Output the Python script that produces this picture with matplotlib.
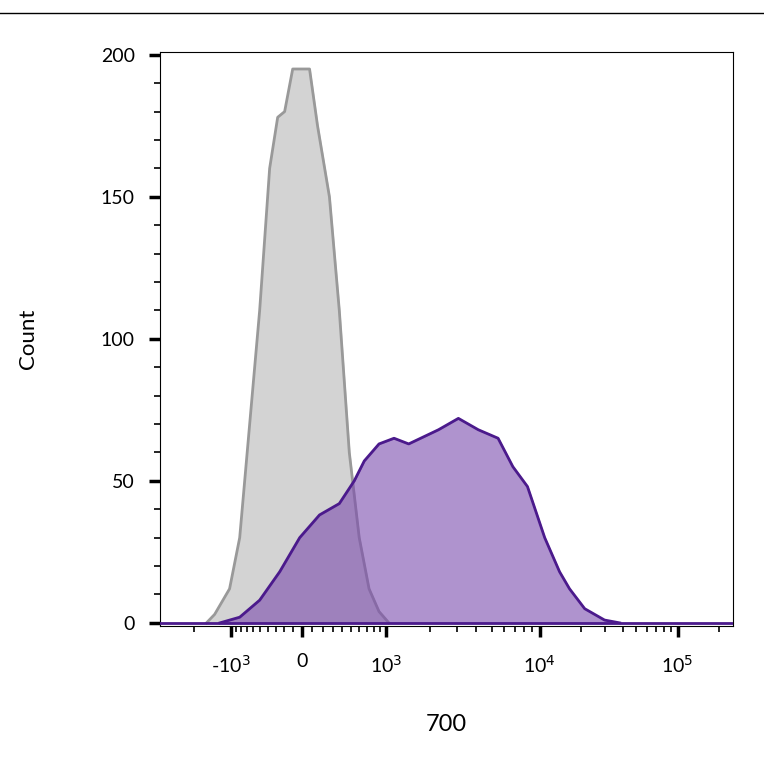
import matplotlib
matplotlib.use("Agg")
import matplotlib.pyplot as plt
from matplotlib.lines import Line2D
import numpy as np

plt.rcParams['font.family'] = ['Lato', 'DejaVu Sans']

gray_x = [-1590, -1365, -1020, -825, -657, -508, -374, -274, -192, -100, 74, 150, 267, 370, 482, 603, 735, 884, 1050]
gray_y = [0, 3, 12, 30, 70, 110, 160, 178, 180, 195, 195, 175, 150, 110, 60, 30, 12, 4, 0]
purple_x = [-1235, -825, -508, -250, -22, 169, 370, 541, 669, 884, 1144, 1450, 2290, 3075, 4115, 5490, 6800, 8400,
            10900, 13970, 16500, 21250, 29600, 38100]
purple_y = [0, 2, 8, 18, 30, 38, 42, 50, 57, 63, 65, 63, 68, 72, 68, 65, 55, 48, 30, 18, 12, 5, 1, 0]

# display scale (biexponential-like): asinh with piecewise-linear stretch
W = 650.0
U_ANCH = np.array([-20.0, -2.427, -1.18, 0.0, 3.43, 6.65, 20.0])
P_ANCH = np.array([160 - 17.573 * 58.5, 160, 233, 302, 540, 733, 733 + 13.35 * 60])

def fwd(x):
    return np.interp(np.arcsinh(np.asarray(x, float) / W), U_ANCH, P_ANCH)

def inv(p):
    return W * np.sinh(np.interp(np.asarray(p, float), P_ANCH, U_ANCH))

fig = plt.figure(figsize=(7.64, 7.64), dpi=100)
ax = fig.add_axes([0.209, 0.181, 0.75, 0.751])
ax.set_xscale('function', functions=(fwd, inv))
ax.set_xlim(-3650, 251000)
ax.set_ylim(-1, 201)

ax.fill_between(gray_x, gray_y, color='#d3d3d3', zorder=1)
ax.plot(gray_x, gray_y, color='#999999', lw=2, zorder=2)
ax.fill_between(purple_x, purple_y, color='#7b4bae', alpha=0.6, zorder=3)
ax.plot(purple_x, purple_y, color='#4b1a8c', lw=2, zorder=4)
ax.plot([-3650, 251000], [0, 0], color='#4b1a8c', lw=2, zorder=4)

ax.set_xticks([-1000, 0, 1000, 10000, 100000])
ax.set_xticklabels(['-10$^3$', '0', '10$^3$', '10$^4$', '10$^5$'], fontsize=14)
minors = [-2000, -900, -800, -700, -600, -500, -400, -300, -200, -100, 100, 200, 300, 400, 500, 600, 700, 800, 900] + \
         [k * 1000 for k in range(2, 10)] + [k * 10000 for k in range(2, 10)] + [200000]
ax.set_xticks(minors, minor=True)
ax.set_yticks([0, 50, 100, 150, 200])
ax.set_yticks(range(0, 201, 10), minor=True)
ax.tick_params(axis='both', which='major', length=8, width=2.5, labelsize=14)
ax.tick_params(axis='both', which='minor', length=4, width=1.2)
ax.tick_params(axis='x', which='major', pad=12)
ax.tick_params(axis='y', which='major', pad=10)
ax.set_xlabel('700', fontsize=17, labelpad=28)
ax.set_ylabel('Count', fontsize=16, labelpad=45)
fig.add_artist(Line2D([0, 1], [1 - 13 / 764, 1 - 13 / 764], color='black', lw=1))
fig.savefig('out.png', dpi=100)
